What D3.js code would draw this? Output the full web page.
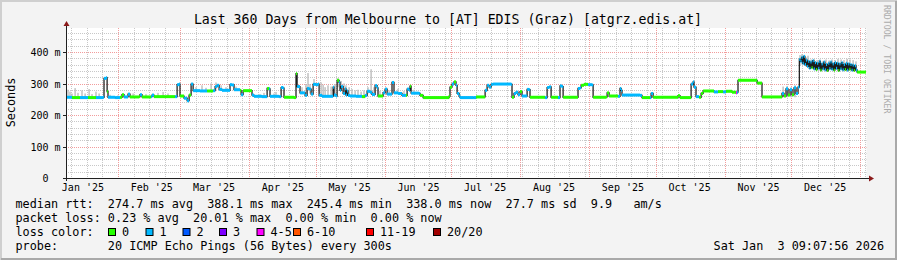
<!DOCTYPE html>
<html>
<head>
<meta charset="utf-8">
<script src="https://cdn.jsdelivr.net/npm/d3@7"></script>
<style>
    html, body { margin: 0; padding: 0; background: #f3f3f3; }
    svg { display: block; }
    text { font-family: "DejaVu Sans Mono", monospace; white-space: pre; }
</style>
</head>
<body>
<div id="chart"></div>
<script>
// --- 1. DATA ---
// time window: last 360 days ending Sat Jan 3 09:07:56 2026
const windowEnd = Date.UTC(2026, 0, 3, 9, 7, 56);
const windowDays = 360;

// median rtt (ms), day offset from window start, loss (pings lost of 20, as legend class index)
const medDay = [0, 2.7, 6.3, 9.9, 13.5, 16.7, 17.1, 18, 18.5, 18.9, 22.1, 24.3, 25.2, 26.1, 27.9, 28.8, 32.9, 33.3, 34.2, 38.3,
    38.7, 39.6, 44.6, 49.1, 50, 50.9, 51.3, 53.1, 54.5, 55.4, 56.3, 57.2, 60.3, 63.5, 66.2, 67.1, 68, 68.9, 70.2, 72.9,
    73.8, 74.7, 75.6, 78.3, 78.8, 79.7, 82.8, 83.7, 84.6, 88.2, 90.5, 91.4, 91.8, 95.9, 96.8, 97.7, 98.1, 102.6, 103.5, 104, 105.3,
    107.6, 108.5, 109.4, 110.3, 111.2, 112.5, 113.4, 113.9, 115.2, 118.8, 120.2, 120.6, 121.5, 122, 122.9, 123.3, 123.8, 124.7, 125.6, 126,
    126.5, 126.9, 127.8, 130.5, 133.2, 134.6, 135.5, 136.8, 137.7, 139.1, 140, 140.4, 142.7, 143.6, 144.5, 146.7, 147.6, 149.4, 151.2, 153,
    153.5, 154.4, 154.8, 155.3, 158.9, 159.3, 160.7, 172.4, 172.8, 173.7, 174.6, 175.5, 176, 176.9, 177.3, 183.2, 184.5, 188.6, 189.5, 190.4,
    191.3, 192.2, 200.3, 200.7, 201.6, 202.5, 203.4, 204.3, 205.2, 207.5, 208.4, 208.8, 215.6, 216.5, 217.4, 218.3, 221.4, 222.3, 223.2, 223.7,
    230.4, 231.3, 231.8, 233.1, 234.9, 236.7, 237.2,
    243, 243.5, 244.4, 248.4, 249.3, 249.8, 250.2, 258.3, 259.2, 262.8, 263.3, 264.2, 275.4, 276.3, 281.3, 282.2, 282.6, 283.5, 284.9, 285.8,
    286.7, 291.6, 293.4, 295.7, 297, 299.7, 301.5, 302, 302.4, 311, 313.2, 322.2, 323.1, 324, 324.9, 325.8, 326.7, 327.6, 328.5, 329.4,
    330, 330.5, 331, 331.5, 332, 332.5, 333, 333.5, 334, 334.5, 335, 335.5, 336, 336.5, 337, 337.5, 338, 338.5, 339, 339.5,
    340, 340.5, 341, 341.5, 342, 342.5, 343, 343.5, 344, 344.5, 345, 345.5, 346, 346.5, 347, 347.5, 348, 348.5, 349, 349.5,
    350, 350.5, 351, 351.5, 352, 352.5, 353, 353.5, 354, 354.5, 355, 355.5, 356, 360];

const medMs = [258, 257, 257, 257, 257, 258, 318, 320, 276, 258, 257, 258, 266, 259, 268, 259, 260, 266, 259, 260,
    265, 260, 260, 260, 298, 300, 262, 255, 247, 265, 300, 279, 278, 278, 279, 292, 296, 283, 280, 280,
    298, 297, 282, 280, 266, 279, 279, 265, 261, 260, 286, 285, 261, 260, 289, 287, 258, 257, 333, 292, 272,
    264, 286, 284, 268, 299, 298, 300, 264, 261, 261, 290, 265, 262, 312, 305, 280, 292, 270, 285, 265,
    278, 264, 262, 261, 260, 264, 277, 274, 267, 295, 288, 262, 272, 284, 268, 305, 272, 270, 264, 264,
    284, 280, 293, 271, 270, 264, 257, 262, 290, 300, 307, 296, 270, 262, 257, 257, 259, 280, 296, 290,
    299, 300, 299, 258, 270, 274, 266, 276, 262, 283, 282, 258, 257, 289, 291, 258, 257, 294, 292, 258,
    286, 288, 296, 299, 298, 297, 258,
    259, 272, 262, 261, 286, 280, 265, 264, 257, 257, 270, 258, 263, 257, 300, 307, 290, 260, 258, 270,
    278, 275, 276, 275, 277, 274, 272, 274, 312, 303, 259, 270, 262, 285, 265, 282, 266, 288, 270, 290,
    378, 372, 385, 366, 388, 362, 376, 356, 372, 350, 370, 352, 374, 348, 368, 346, 366, 350, 372, 344,
    364, 348, 370, 345, 362, 343, 366, 349, 370, 347, 364, 344, 368, 350, 366, 343, 364, 348, 368, 345,
    362, 346, 366, 344, 364, 347, 362, 344, 360, 343, 358, 345, 338, 338];

const medLoss = [1, 0, 1, 0, 1, 1, 1, 1, 0, 1, 1, 0, 0, 1, 1, 0, 0, 1, 0, 1,
    1, 0, 0, 1, 1, 1, 0, 1, 1, 0, 1, 1, 1, 0, 1, 1, 1, 1, 1, 1,
    1, 1, 1, 0, 1, 0, 0, 1, 1, 1, 0, 1, 1, 1, 1, 1, 0, 0, 0, 1, 1,
    1, 1, 1, 1, 1, 1, 1, 1, 1, 1, 1, 1, 1, 0, 1, 1, 1, 1, 1, 1,
    1, 1, 1, 1, 0, 1, 1, 1, 1, 1, 1, 0, 1, 1, 1, 1, 1, 1, 1, 0,
    1, 1, 0, 1, 1, 0, 0, 0, 0, 1, 0, 1, 1, 1, 1, 1, 0, 1, 1, 1,
    1, 1, 1, 0, 1, 1, 1, 0, 1, 1, 1, 0, 1, 1, 1, 0, 1, 1, 1, 0,
    1, 1, 0, 0, 1, 1, 0,
    0, 0, 0, 1, 1, 1, 1, 1, 0, 1, 1, 0, 0, 0, 1, 1, 1, 1, 0, 0,
    0, 1, 0, 1, 0, 0, 4, 1, 0, 0, 0, 1, 0, 1, 0, 1, 0, 1, 1, 1,
    1, 1, 1, 1, 1, 1, 1, 1, 1, 1, 1, 0, 1, 1, 1, 0, 1, 1, 1, 0,
    1, 1, 1, 1, 1, 0, 1, 1, 1, 1, 1, 0, 1, 1, 1, 0, 1, 1, 1, 1,
    1, 0, 1, 1, 1, 0, 1, 1, 1, 0, 1, 1, 0, 0];

// smoke (spread of the 20 pings) where it shows above the median
const smokeDay = [0.9, 1.8, 2.7, 4.1, 5.4, 7.2, 8.6, 10.4, 11.7, 13.5, 14.9, 19.8, 23.4,
    30.2, 36, 41.4, 43.7, 45.9,
    58.5, 61.2, 63, 65.3, 67.5, 69.8, 72, 76.5,
    87.3, 89.1, 93.6, 94.5,
    106.2, 108, 108.9, 109.8, 111.6, 114.8, 115.7, 116.6, 117.9, 119.3,
    121.1, 122.4, 123.8, 125.1, 126, 127.4, 128.7, 130.1, 131.4, 132.8,
    134.1, 135.9, 137.3, 138.6, 141.3, 145.4, 149.4, 152.1, 156.6,
    322.7, 324.5, 326.3, 328.1,
    330.3, 331.2, 332.1, 333, 333.9, 335.3, 336.6, 338, 339.3, 340.7,
    342, 343.4, 344.7, 346.1, 347.4, 348.8, 350.1, 351.5, 352.8, 354.2, 355.5];
const smokeLo = [258, 258, 258, 258, 258, 258, 258, 258, 258, 258, 258, 258, 258,
    259, 259, 260, 260, 260,
    278, 278, 278, 278, 282, 280, 280, 280,
    260, 260, 260, 260,
    268, 264, 284, 270, 299, 261, 261, 261, 261, 261,
    262, 290, 280, 270, 265, 262, 261, 261, 261, 260,
    260, 270, 267, 270, 262, 266, 270, 264, 270,
    258, 258, 258, 258,
    360, 362, 360, 356, 355, 350, 348, 348, 345, 346,
    344, 346, 345, 344, 344, 345, 344, 345, 344, 344, 342];
const smokeHi = [282, 276, 270, 287, 272, 280, 270, 284, 268, 276, 270, 266, 264,
    270, 268, 272, 275, 270,
    290, 296, 288, 302, 305, 296, 290, 292,
    268, 272, 270, 275,
    290, 300, 335, 300, 316, 305, 298, 290, 296, 292,
    300, 318, 310, 302, 296, 290, 284, 280, 282, 276,
    280, 290, 347, 290, 278, 280, 285, 278, 282,
    292, 294, 290, 296,
    392, 395, 392, 385, 390, 378, 380, 376, 378, 374,
    378, 375, 378, 376, 380, 378, 376, 380, 378, 376, 372];

const lossLabels = ['0', '1', '2', '3', '4-5', '6-10', '11-19', '20/20'];
const lossColors = ['#26ff00', '#00b8ff', '#0059ff', '#7e00ff', '#ff00ff', '#ff5500', '#ff0000', '#a10000'];

const rttStats = ['274.7 ms avg', '388.1 ms max', '245.4 ms min', '338.0 ms now', '27.7 ms sd', '9.9   am/s'];
const lossStats = ['0.23 % avg', '20.01 % max', '0.00 % min', '0.00 % now'];
const probeText = '20 ICMP Echo Pings (56 Bytes) every 300s';
const stampText = 'Sat Jan  3 09:07:56 2026';
const titleText = 'Last 360 Days from Melbourne to [AT] EDIS (Graz) [atgrz.edis.at]';

// --- 2. SETUP ---
const W = 897, H = 260;
const DAY = 864e5;
const t0 = new Date(windowEnd - windowDays * DAY);
const t1 = new Date(windowEnd);
const toDate = d => new Date(t0.getTime() + d * DAY);

const x = d3.scaleUtc().domain([t0, t1]).range([66, 866]);
const y = d3.scaleLinear().domain([0, 478]).range([178.5, 28]);
const crisp = v => Math.round(v - 0.5) + 0.5;

const svg = d3.select('#chart').append('svg')
    .attr('width', W).attr('height', H);

svg.append('rect').attr('width', W).attr('height', H).attr('fill', '#f3f3f3');
svg.append('rect')
    .attr('x', x.range()[0]).attr('y', y.range()[1])
    .attr('width', x.range()[1] - x.range()[0] + 0.5)
    .attr('height', y(0) - y.range()[1])
    .attr('fill', '#ffffff');

// --- 3. GRID ---
const grid = svg.append('g');
const majorY = y.ticks(5).filter(v => v > 0);
const minorY = y.ticks(24).filter(v => v > 0 && v % 100 !== 0);
const months = d3.utcMonth.range(t0, t1);
const weeks = d3.utcSaturday.range(t0, t1).filter(d => d.getUTCDate() !== 1);

function hLines(vals, color) {
    grid.selectAll(null).data(vals).enter().append('line')
        .attr('x1', 66).attr('x2', 866.5)
        .attr('y1', d => crisp(y(d))).attr('y2', d => crisp(y(d)))
        .attr('stroke', color).attr('stroke-dasharray', '1,1');
}
function vLines(vals, color) {
    grid.selectAll(null).data(vals).enter().append('line')
        .attr('x1', d => crisp(x(d))).attr('x2', d => crisp(x(d)))
        .attr('y1', 28).attr('y2', 178)
        .attr('stroke', color).attr('stroke-dasharray', '1,1');
}
hLines(minorY, '#c8c8c8');
vLines(weeks, '#c8c8c8');
hLines(majorY, '#f29c9c');
vLines(months, '#f29c9c');

// --- 4. SMOKE + MEDIAN ---
svg.append('g').selectAll('rect').data(smokeDay).enter().append('rect')
    .attr('x', d => x(toDate(d)) - 0.7)
    .attr('width', 1.4)
    .attr('y', (d, i) => y(smokeHi[i]))
    .attr('height', (d, i) => y(smokeLo[i]) - y(smokeHi[i]))
    .attr('fill', '#bdbdbd');

const pts = medDay.map((d, i) => ({ t: toDate(d), v: medMs[i], loss: medLoss[i] }));

svg.append('path')
    .datum(pts)
    .attr('fill', 'none')
    .attr('stroke', '#1c1c1c')
    .attr('stroke-width', 1.25)
    .attr('d', d3.line().x(d => x(d.t)).y(d => y(d.v)).curve(d3.curveStepAfter));

svg.append('g').selectAll('rect').data(pts.slice(0, -1)).enter().append('rect')
    .attr('x', d => x(d.t))
    .attr('width', (d, i) => Math.max(1, x(pts[i + 1].t) - x(d.t)))
    .attr('y', d => y(d.v) - 1.5)
    .attr('height', 3)
    .attr('fill', d => lossColors[d.loss]);

// --- 5. AXES ---
const axisColor = '#202020', arrowColor = '#8b1a1a';
svg.append('line').attr('x1', 63).attr('x2', 870).attr('y1', 178.5).attr('y2', 178.5).attr('stroke', axisColor);
svg.append('line').attr('x1', 66.5).attr('x2', 66.5).attr('y1', 25).attr('y2', 181).attr('stroke', axisColor);
svg.append('path').attr('d', 'M869,175.5 L874,178.5 L869,181.5 Z').attr('fill', arrowColor);
svg.append('path').attr('d', 'M63.5,26 L66.5,21 L69.5,26 Z').attr('fill', arrowColor);

svg.append('g').selectAll('line').data(majorY).enter().append('line')
    .attr('x1', 63).attr('x2', 66)
    .attr('y1', d => crisp(y(d))).attr('y2', d => crisp(y(d)))
    .attr('stroke', axisColor);

const yFmt = v => v === 0 ? '0  ' : `${v} m`;
svg.append('g').selectAll('text').data(y.ticks(5)).enter().append('text')
    .attr('x', 60.5).attr('y', d => crisp(y(d)) + 3.6)
    .attr('text-anchor', 'end')
    .attr('font-size', '10px')
    .text(yFmt);

const labelMonths = d3.utcMonth.range(d3.utcMonth.floor(t0), t1)
    .map(m => d3.utcDay.offset(m, 15))
    .filter(d => d > t0 && d < t1);
const xFmt = d3.utcFormat("%b '%y");
svg.append('g').selectAll('text').data(labelMonths).enter().append('text')
    .attr('x', d => x(d)).attr('y', 190.5)
    .attr('text-anchor', 'middle')
    .attr('font-size', '10px')
    .text(xFmt);

svg.append('text')
    .attr('transform', 'translate(15,102.5) rotate(-90)')
    .attr('text-anchor', 'middle')
    .attr('font-size', '11.8px')
    .text('Seconds');

svg.append('text')
    .attr('x', 448).attr('y', 24)
    .attr('text-anchor', 'middle')
    .attr('font-size', '13.2px')
    .text(titleText);

svg.append('text')
    .attr('transform', 'translate(884,5) rotate(90)')
    .attr('font-size', '8.2px')
    .attr('fill', '#ababab')
    .text('RRDTOOL / TOBI OETIKER');

// --- 6. LEGEND ---
const lx = 15.5, fs = '11.8px';
const legend = svg.append('g').attr('font-size', fs);
legend.append('text').attr('x', lx).attr('y', 207.5).text('median rtt:  ' + rttStats.join('  '));
legend.append('text').attr('x', lx).attr('y', 221.6).text('packet loss: ' + lossStats.join('  '));
legend.append('text').attr('x', lx).attr('y', 235.7).text('loss color:');
legend.append('text').attr('x', lx).attr('y', 249.8).text('probe:       ' + probeText);
legend.append('text').attr('x', 884).attr('y', 249.8).attr('text-anchor', 'end').text(stampText);

// swatch positions along the loss-colour line (layout as rrdtool spaced them)
const lossBoxX = [108, 145.5, 182.5, 219, 256.5, 293, 366, 433];
lossLabels.forEach((lab, i) => {
    const bx = lossBoxX[i];
    legend.append('rect')
        .attr('x', bx + 0.5).attr('y', 228.5).attr('width', 7).attr('height', 7)
        .attr('fill', lossColors[i]).attr('stroke', '#000').attr('stroke-width', 1);
    legend.append('text').attr('x', bx + 14).attr('y', 235.7).text(lab);
});

// --- 7. FRAME ---
svg.append('path').attr('d', `M1,${H} L1,1 L${W},1`).attr('fill', 'none').attr('stroke', '#cfcfcf').attr('stroke-width', 2);
svg.append('path').attr('d', `M1,${H - 1} L${W - 1},${H - 1} L${W - 1},1`).attr('fill', 'none').attr('stroke', '#a9a9a9').attr('stroke-width', 2);
</script>
</body>
</html>
